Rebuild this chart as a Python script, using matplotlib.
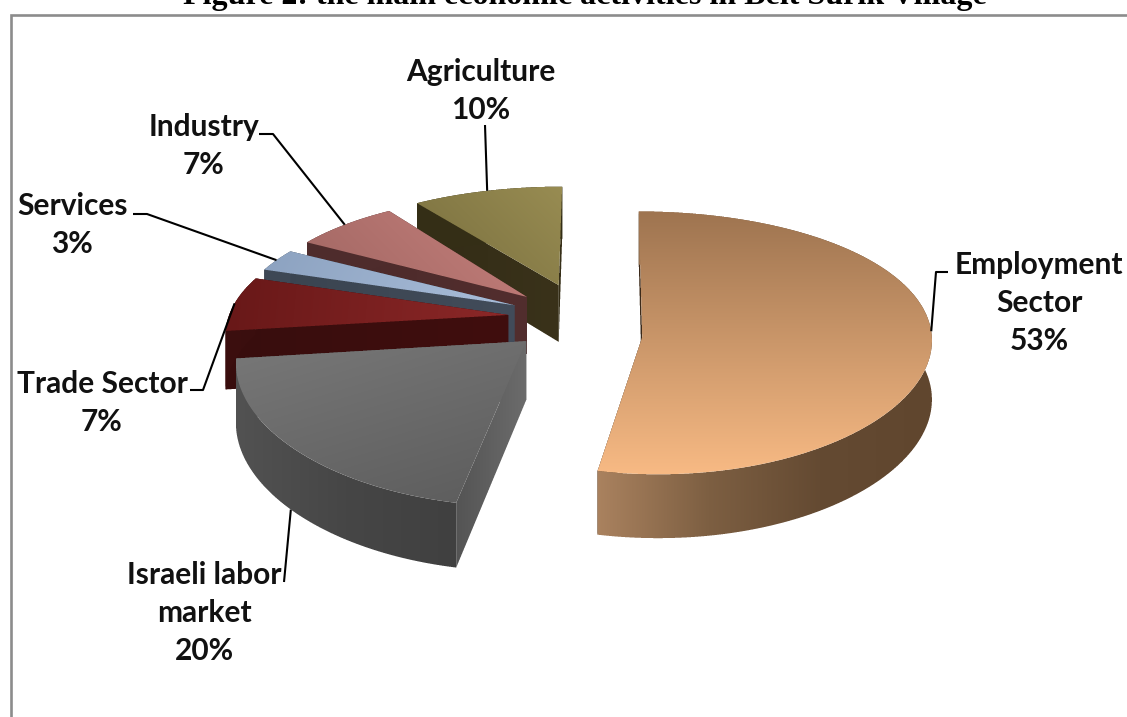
import numpy as np
import matplotlib
matplotlib.use("Agg")
import matplotlib.pyplot as plt
from matplotlib.path import Path

# values
labels = ["Employment\nSector", "Israeli labor\nmarket", "Trade Sector", "Services", "Industry", "Agriculture"]
shares = [53, 20, 7, 3, 7, 10]

title = "Figure 2: the main economic activities in Beit Surik Village"

# projection of the tilted pie, in pixels
cx, cy = 580.5, 318.0
A, B = 280.0, 126.0
kx, ky = 0.13, 0.18
depth = 58.0
explode = 0.26

# colours: top stops, top direction, arc side stops, radial wall stops
top_cols = [
    [(158, 116, 80), (248, 186, 132)],
    [(120, 120, 120), (92, 92, 92)],
    [(104, 24, 24), (140, 40, 40)],
    [(140, 162, 192), (170, 190, 218)],
    [(160, 102, 98), (198, 128, 124)],
    [(120, 110, 62), (152, 140, 82)],
]
top_dirs = [(0, 1), (0.3, 1), (1, 0.1), (1, 0.5), (0.6, -0.6), (0.7, -0.7)]
side_cols = [
    [(170, 130, 95), (125, 95, 66), (100, 74, 50), (96, 70, 46)],
    [(82, 82, 82), (70, 70, 70), (64, 64, 64)],
    [(60, 14, 14), (58, 14, 14)],
    [(62, 72, 85), (62, 72, 85)],
    [(78, 44, 44), (78, 44, 44)],
    [(52, 46, 22), (52, 46, 22)],
]
wall_cols = [
    [(60, 42, 26), (60, 42, 26)],
    [(84, 84, 84), (108, 108, 108)],
    [(56, 13, 13), (64, 14, 14)],
    [(58, 68, 80), (66, 76, 90)],
    [(76, 42, 42), (82, 46, 46)],
    [(50, 44, 22), (58, 50, 26)],
]
# per-slice nudges, the large slice's point sits lower than the rest
slice_shift = [(-6, -2), (0, 0), (0, 0), (0, 0), (3, -2), (1, -3)]
apex_shift = [(-5, 18), (0, 0), (0, 0), (0, 0), (-3, 2), (-1, 0)]
draw_order = [5, 4, 3, 2, 1, 0]

# label centres and leader elbows
label_xy = [(1039, 302), (204, 612), (102, 402), (72, 224), (204, 145), (481, 90)]
leader_pts = [
    [(948, 272), (936, 272)],
    [(284, 582)],
    [(190, 390), (203, 390)],
    [(133, 214), (147, 214)],
    [(259, 134), (273, 134)],
    [(485, 125)],
]
leader_lower = [False, True, False, False, False, False]


def project(X, Y, lower=False):
    sx = cx + A * X / (1 + kx * Y)
    sy = cy - B * Y / (1 + ky * Y)
    if lower:
        sy = sy + depth / (1 + 0.5 * ky * Y)
    return sx, sy


def grad_fill(ax, verts, cols, direction, z):
    # gradient image on the pixel grid, alpha from a 4x4 coverage mask so edges stay smooth
    verts = np.array(verts)
    x0, y0 = np.floor(verts.min(axis=0)).astype(int)
    x1, y1 = np.ceil(verts.max(axis=0)).astype(int)
    nx, ny = max(x1 - x0, 1), max(y1 - y0, 1)
    sub = 4
    sx = x0 + (np.arange(nx * sub) + 0.5) / sub
    sy = y0 + (np.arange(ny * sub) + 0.5) / sub
    gx, gy = np.meshgrid(sx, sy)
    inside = Path(verts).contains_points(np.column_stack([gx.ravel(), gy.ravel()])).reshape(gx.shape)
    alpha = inside.reshape(ny, sub, nx, sub).mean(axis=(1, 3))
    px, py = np.meshgrid(x0 + np.arange(nx) + 0.5, y0 + np.arange(ny) + 0.5)
    t = px * direction[0] + py * direction[1]
    t = (t - t.min()) / max(t.max() - t.min(), 1e-6)
    stops = np.linspace(0, 1, len(cols))
    rgb = np.dstack([np.interp(t, stops, [c[i] for c in cols]) for i in range(3)]) / 255.0
    ax.imshow(np.dstack([rgb, alpha]), extent=(x0, x0 + nx, y0 + ny, y0), zorder=z, aspect="auto",
              interpolation="nearest")


fig = plt.figure(figsize=(11.27, 7.17), dpi=100)
ax = fig.add_axes([0, 0, 1, 1])

edges = np.cumsum([0] + shares) / sum(shares) * 360.0
z = 2
leader_ends = {}
for i in draw_order:
    a0, a1 = np.radians(edges[i]), np.radians(edges[i + 1])
    mid = (a0 + a1) / 2
    ox = explode * np.sin(mid)
    oy = explode * np.cos(mid)
    th = np.linspace(a0, a1, 120)
    shift = np.array(slice_shift[i])
    upper = np.column_stack(project(ox + np.sin(th), oy + np.cos(th))) + shift
    lower = np.column_stack(project(ox + np.sin(th), oy + np.cos(th), True)) + shift
    apex = np.array(project(ox, oy)) + shift + apex_shift[i]
    apex_low = np.array(project(ox, oy, True)) + shift + apex_shift[i]

    # hidden radial wall first, then the front one, then the rim, then the top
    grad_fill(ax, [upper[-1], apex, apex_low, lower[-1]], wall_cols[i], (1, 0), z)
    grad_fill(ax, [upper[0], apex, apex_low, lower[0]], wall_cols[i], (1, 0), z + 1)
    grad_fill(ax, np.vstack([upper, lower[::-1]]), side_cols[i], (1, 0), z + 2)
    grad_fill(ax, np.vstack([upper, [apex]]), top_cols[i], top_dirs[i], z + 3)
    z += 4

    leader_ends[i] = np.array(project(ox + np.sin(mid), oy + np.cos(mid), leader_lower[i])) + shift

# leaders and labels go on top of the slices, except the one running behind the grey slice
for i in range(len(shares)):
    pts = leader_pts[i] + [leader_ends[i]]
    xs = [p[0] for p in pts]
    ys = [p[1] for p in pts]
    ax.plot(xs, ys, color="black", lw=1.5, zorder=1 if i == 1 else 60, solid_capstyle="butt")
    ax.text(label_xy[i][0], label_xy[i][1] + 1, "%s\n%d%%" % (labels[i], shares[i]),
            ha="center", va="center", fontsize=21.5, fontweight="bold", family="Lato",
            linespacing=1.43, color="#111111", zorder=61)

# chart frame, cut off at the right and bottom
ax.plot([11, 11, 1127], [717, 15, 15], color="#8c8c8c", lw=1.9, solid_joinstyle="miter", zorder=1)

ax.text(584.5, 4, title, ha="center", va="baseline", fontsize=23, fontweight="bold",
        family="Liberation Serif", color="black", clip_on=False)

ax.set_xlim(0, 1127)
ax.set_ylim(717, 0)
ax.axis("off")
fig.savefig("out.png", dpi=100, facecolor="white")
